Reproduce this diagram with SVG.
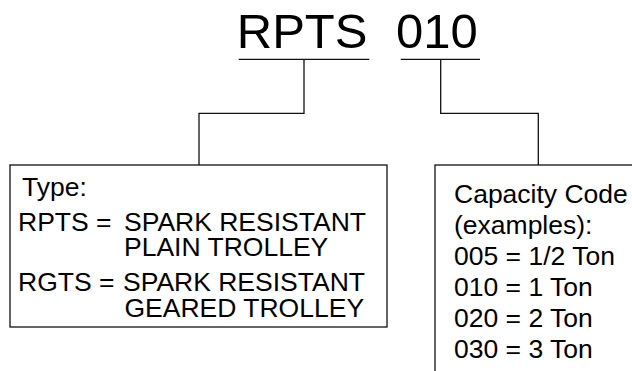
<svg xmlns="http://www.w3.org/2000/svg" width="632" height="371" viewBox="0 0 632 371">
<style>
.t{font-family:"Liberation Sans",Arial,sans-serif;fill:#000}
.big{font-size:49px}
.lbl{font-size:26.5px}
.ln{fill:none;stroke:#111;stroke-width:1.3}
</style>
<rect width="632" height="371" fill="#fff"/>
<g id="title">
<text class="t big" x="236.8" y="48">RPTS</text>
<text class="t big" x="396" y="48">010</text>
</g>
<g id="connectors">
<line class="ln" x1="238.7" y1="59.3" x2="369.3" y2="59.3"/>
<line class="ln" x1="400.7" y1="59.3" x2="480" y2="59.3"/>
<polyline class="ln" points="304,59.3 304,113.3 199,113.3 199,165"/>
<polyline class="ln" points="440.7,59.3 440.7,113.3 538.3,113.3 538.3,165"/>
</g>
<g id="type-box">
<rect class="ln" x="10" y="165" width="377" height="162"/>
<text class="t lbl" x="22" y="196">Type:</text>
<text class="t lbl" x="18" y="230.5">RPTS =</text>
<text class="t lbl" x="124" y="230.5">SPARK RESISTANT</text>
<text class="t lbl" x="124" y="255.5">PLAIN TROLLEY</text>
<text class="t lbl" x="18" y="290.5">RGTS =</text>
<text class="t lbl" x="123" y="290.5">SPARK RESISTANT</text>
<text class="t lbl" x="124.5" y="316.5">GEARED TROLLEY</text>
</g>
<g id="capacity-box">
<rect class="ln" x="435" y="165" width="260" height="260"/>
<text class="t lbl" x="454" y="202.5">Capacity Code</text>
<text class="t lbl" x="454" y="233.5">(examples):</text>
<text class="t lbl" x="454" y="264.5">005 = 1/2 Ton</text>
<text class="t lbl" x="454" y="295.7">010 = 1 Ton</text>
<text class="t lbl" x="454" y="327">020 = 2 Ton</text>
<text class="t lbl" x="454" y="358">030 = 3 Ton</text>
</g>
</svg>
